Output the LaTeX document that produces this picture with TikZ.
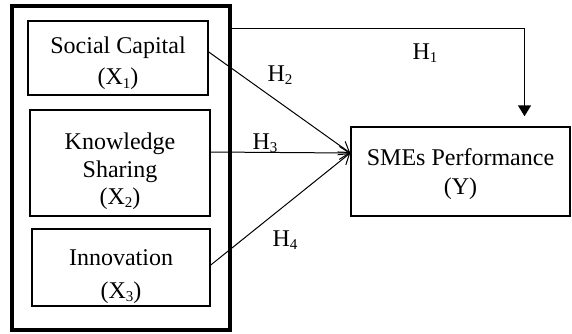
\documentclass[tikz,border=0pt]{standalone}
\usepackage{fontspec}
\setmainfont{Liberation Serif}
\usetikzlibrary{arrows.meta}

\tikzset{
  varbox/.style={draw, line width=0.75pt, align=center, inner sep=0pt,
    font=\fontsize{12}{13.5}\selectfont},
  hyp/.style={inner sep=0pt, font=\fontsize{12}{14}\selectfont},
  arr/.style={line width=0.5pt, -{Straight Barb[length=5pt,width=6.5pt]}},
}
% strut to push box text a little lower
\newcommand{\topgap}[1]{\rule{0pt}{#1}}
% small lowered index digit
\newcommand{\lowidx}[1]{\raisebox{-1.6pt}{\fontsize{7.5}{8}\selectfont #1}}

\begin{document}
\begin{tikzpicture}[x=0.5pt, y=-0.5pt]
        \useasboundingbox (0,0) rectangle (572,333);
        \node[varbox, line width=1.6pt, minimum width=109pt, minimum height=162pt] (grp) at (121,168) {};
        \node[varbox, minimum width=90pt, minimum height=37pt] (sc) at (118,58) {\topgap{14pt}Social Capital\\[2pt](X\lowidx{1})};
        \node[varbox, minimum width=90pt, minimum height=53pt] (ks) at (120,163) {\topgap{16.5pt}Knowledge\\[0.5pt]Sharing\\(X\lowidx{2})};
        \node[varbox, minimum width=89pt, minimum height=38.5pt] (inn) at (121,267.5) {\topgap{17pt}Innovation\\[3pt](X\lowidx{3})};
        \node[varbox, minimum width=109.5pt, minimum height=44.5pt] (perf) at (460.5,171.5) {\topgap{11pt}SMEs Performance\\[1pt](Y)};
        \coordinate (tgt) at ([yshift=9.25pt]perf.west);
        \draw[arr] ([yshift=3pt]sc.east) to (tgt);
        \draw[arr] ([yshift=5.5pt]ks.east) to (tgt);
        \draw[arr] ([yshift=1.25pt]inn.east) to (tgt);
        \draw[line width=0.75pt, -{Triangle[length=5.5pt,width=6.5pt]}] ([yshift=-12pt]grp.north east) -| ([xshift=32pt,yshift=5pt]perf.north);
        \node[hyp] (h1) at (425,53) {H\lowidx{1}};
        \node[hyp] (h2) at (280,75) {H\lowidx{2}};
        \node[hyp] (h3) at (265,143) {H\lowidx{3}};
        \node[hyp] (h4) at (285,240) {H\lowidx{4}};
\end{tikzpicture}
\end{document}
